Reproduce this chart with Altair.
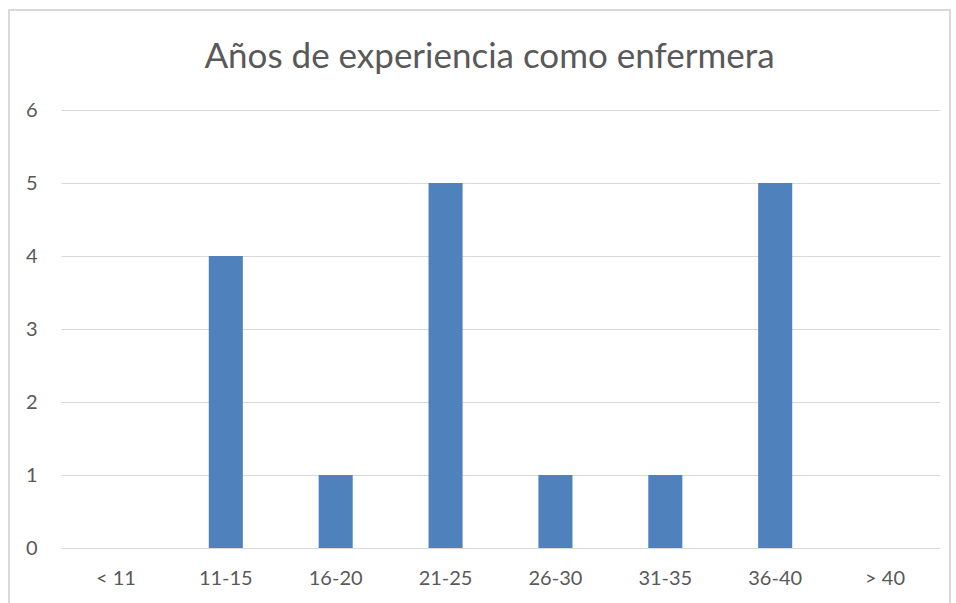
import altair as alt
import pandas as pd

# Nurses grouped by years of experience
ranges = ["< 11", "11-15", "16-20", "21-25", "26-30", "31-35", "36-40", "> 40"]
counts = [0, 4, 1, 5, 1, 1, 5, 0]

df = pd.DataFrame({"rango": ranges, "n": counts})

FONT = "Lato"
TEXT = "#595959"
GRID = "#d9d9d9"

bars = alt.Chart(df).mark_bar(color="#4F81BD").encode(
    x=alt.X(
        "rango:N",
        sort=ranges,
        title=None,
        scale=alt.Scale(paddingInner=0.69, paddingOuter=0.345),
        axis=alt.Axis(
            labelAngle=0, ticks=False, domain=False, grid=False,
            labelFont=FONT, labelFontSize=20, labelColor=TEXT, labelPadding=20,
        ),
    ),
    y=alt.Y(
        "n:Q",
        title=None,
        scale=alt.Scale(domain=[0, 6], nice=False),
        axis=alt.Axis(
            values=[0, 1, 2, 3, 4, 5, 6], ticks=False, domain=False,
            gridColor=GRID, gridWidth=1,
            labelFont=FONT, labelFontSize=20, labelColor=TEXT, labelPadding=24,
        ),
    ),
)

# Outer chart frame
frame = alt.Chart(df).mark_rect(fill=None, stroke=GRID, strokeWidth=1.5).encode(
    x=alt.value(-52), x2=alt.value(889), y=alt.value(-100), y2=alt.value(520)
)

chart = (frame + bars).properties(
    width=879,
    height=438,
    background="white",
    title=alt.TitleParams(
        "Años de experiencia como enfermera",
        font=FONT, fontSize=35, fontWeight="normal", color=TEXT,
        anchor="middle", offset=-66, dx=-11,
    ),
    padding={"left": 61, "top": 110, "right": 16, "bottom": 55},
    autosize=alt.AutoSizeParams(type="none"),
).configure_view(strokeOpacity=0, strokeWidth=0)

chart.save("out.html", embed_options={"renderer": "svg", "actions": False})
